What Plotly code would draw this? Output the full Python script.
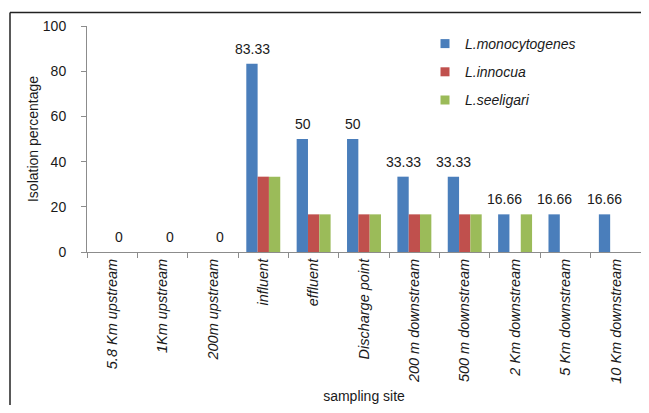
import plotly.graph_objects as go

categories = ["5.8 Km upstream", "1Km upstream", "200m upstream", "influent", "effluent",
              "Discharge point", "200 m downstream", "500 m downstream", "2 Km downstream",
              "5 Km downstream", "10 Km downstream"]
l_monocytogenes = [0, 0, 0, 83.33, 50, 50, 33.33, 33.33, 16.66, 16.66, 16.66]
l_innocua = [0, 0, 0, 33.33, 16.66, 16.66, 16.66, 16.66, 0, 0, 0]
l_seeligari = [0, 0, 0, 33.33, 16.66, 16.66, 16.66, 16.66, 16.66, 0, 0]
series_names = ["L.monocytogenes", "L.innocua", "L.seeligari"]
colors = ["#4a7ebb", "#c0504d", "#9bbb59"]
y_ticks = [0, 20, 40, 60, 80, 100]

# page body has an 8px margin: the figure starts at (8, 8) in the window
OFF = 8
W, H = 649 - 2 * OFF, 413 - 2 * OFF
L, T = 87 - OFF, 26 - OFF
R = 0
B = H - (252 - OFF)
pw, ph = W - L - R, H - T - B
FONT = "Liberation Sans, Arial, Helvetica, sans-serif"
TXT = "#1a1a1a"


def px_x(x):  # window pixel -> paper x
    return (x - OFF - L) / pw


def px_y(y):  # window pixel -> paper y
    return (T + ph - (y - OFF)) / ph


fig = go.Figure()
for name, vals, col in zip(series_names, [l_monocytogenes, l_innocua, l_seeligari], colors):
    fig.add_trace(go.Bar(x=categories, y=vals, marker_color=col, marker_line_width=0,
                         showlegend=False, hoverinfo="x+y", name=name))
    fig.add_trace(go.Scatter(x=[None], y=[None], mode="markers", name=name,
                             marker=dict(symbol="square", size=9, color=col),
                             legendgroup=name))

# data labels on blue series
for c, v in zip(categories, l_monocytogenes):
    fig.add_annotation(x=c, y=v, text=("%g" % v), showarrow=False, yanchor="bottom",
                       xshift=(-11 if v > 0 else 7), yshift=5,
                       font=dict(family=FONT, size=14, color=TXT))

# outer border (left and top), kept inside the figure
x_left, x_right = px_x(10), px_x(OFF + W)
y_top, y_bot = px_y(12.5), px_y(OFF + H)
fig.add_shape(type="line", xref="paper", yref="paper", x0=x_left, x1=x_left, y0=y_bot, y1=y_top,
              line=dict(color="#222222", width=1.5))
fig.add_shape(type="line", xref="paper", yref="paper", x0=x_left, x1=x_right, y0=y_top, y1=y_top,
              line=dict(color="#222222", width=1.5))

fig.update_layout(
    width=W, height=H,
    margin=dict(l=L, r=R, t=T, b=B, autoexpand=False),
    paper_bgcolor="white", plot_bgcolor="white",
    barmode="group", bargap=0.326, bargroupgap=0,
    font=dict(family=FONT, size=14, color=TXT),
    dragmode=False,
    legend=dict(x=px_x(425), y=px_y(28), xanchor="left", yanchor="top",
                font=dict(family=FONT, size=14, color=TXT, style="italic"),
                bgcolor="rgba(0,0,0,0)", tracegroupgap=7),
)
fig.update_xaxes(
    type="category", tickangle=-90, tickson="boundaries", ticks="outside", ticklen=5,
    tickcolor="#8c8c8c", showline=True, linecolor="#8c8c8c", linewidth=1,
    showgrid=False, tickfont=dict(family=FONT, size=14.5, color=TXT, style="italic"),
    title=dict(text="sampling site", standoff=8, font=dict(family=FONT, size=14, color=TXT)),
)
fig.update_yaxes(
    range=[0, 100], tickvals=y_ticks, ticks="outside", ticklen=5, tickcolor="#8c8c8c",
    showline=True, linecolor="#8c8c8c", linewidth=1, showgrid=False, zeroline=False,
    ticklabelstandoff=12, tickfont=dict(family=FONT, size=14, color=TXT),
    title=dict(text="Isolation percentage", standoff=0, font=dict(family=FONT, size=14, color=TXT)),
)

fig.write_html("out.html", config={"displayModeBar": False, "staticPlot": True})
